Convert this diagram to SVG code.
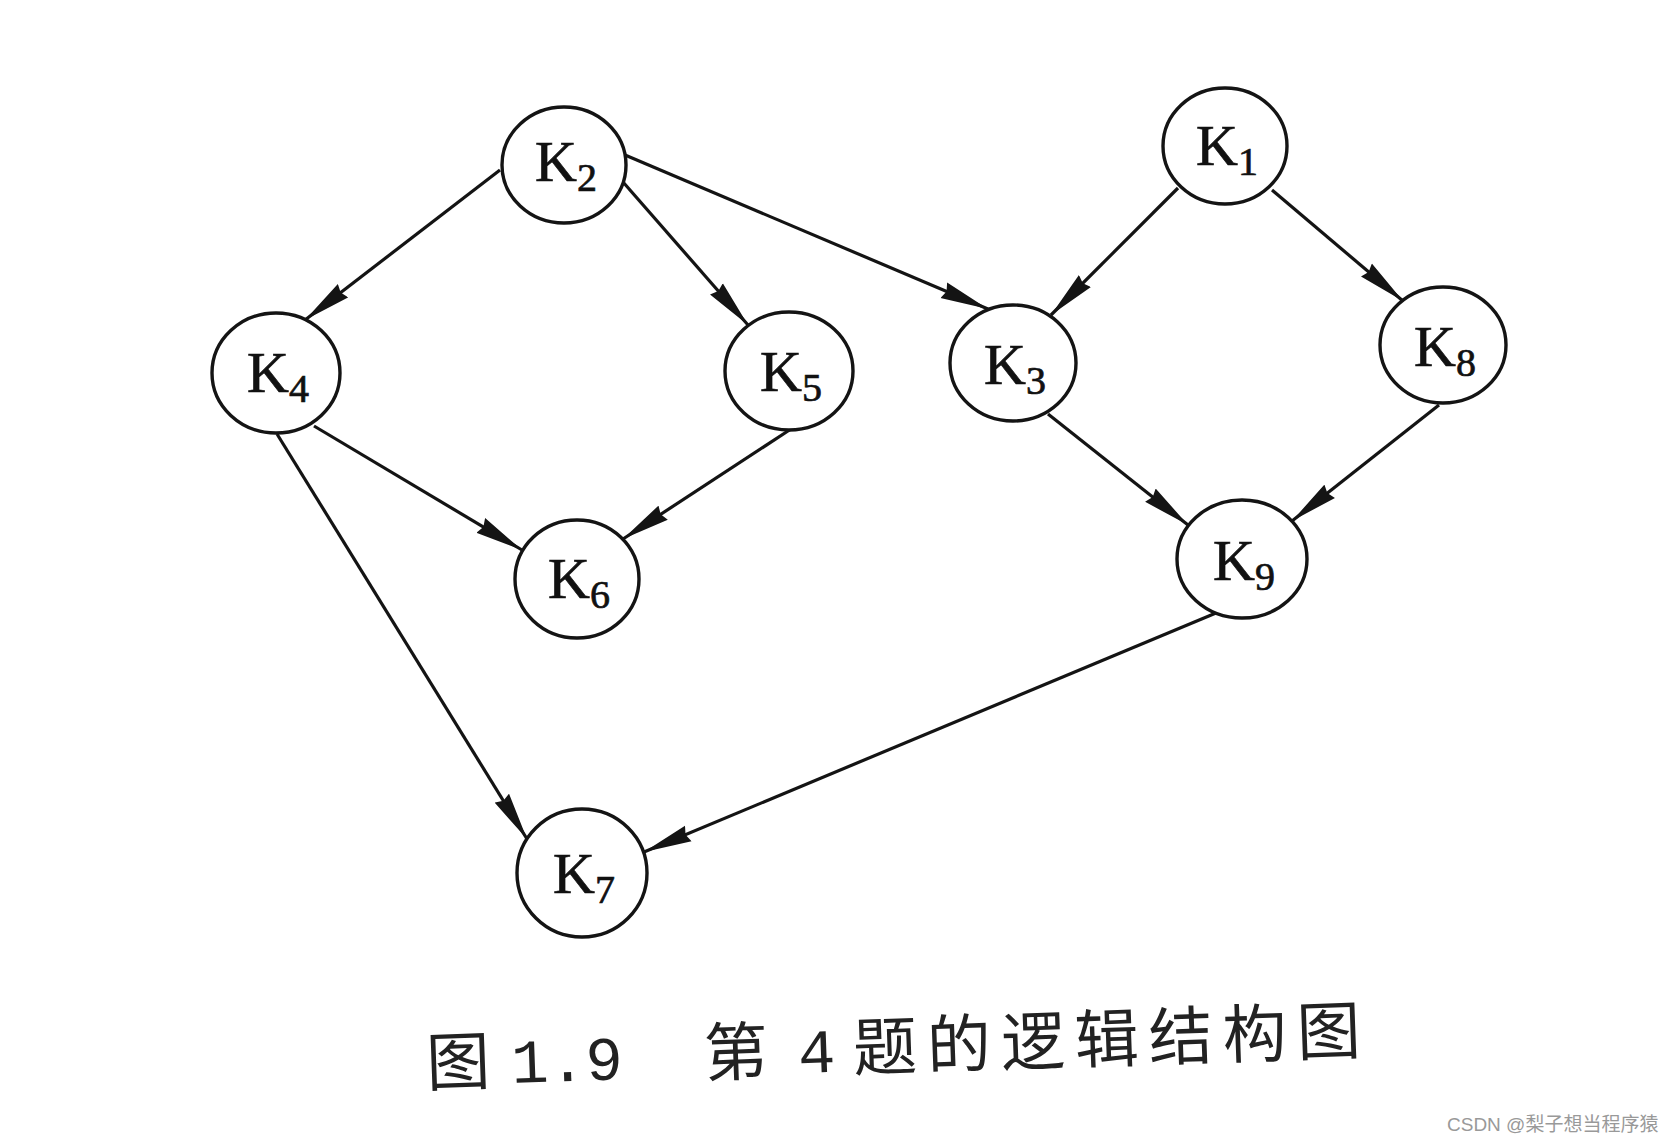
<svg xmlns="http://www.w3.org/2000/svg" width="1674" height="1143" viewBox="0 0 1674 1143">
<style>
.edge{stroke:#141414;stroke-width:3.2;fill:none;marker-end:url(#arr)}
.node ellipse{fill:#fff;stroke:#141414;stroke-width:3.4}
.lbl{font-family:"Liberation Serif","Times New Roman",serif;font-size:58px;fill:#111;stroke:#111;stroke-width:0.7;text-anchor:middle}
.sub{font-size:40px}
.cap{font-family:"Noto Sans CJK SC",sans-serif;font-size:64px;fill:#222}
.num{font-family:"Liberation Mono",monospace;font-size:62px;fill:#222}
.wm{font-family:"Liberation Sans","Noto Sans CJK SC",sans-serif;font-size:19px;fill:#999}
</style>
<defs>
<marker id="arr" markerUnits="userSpaceOnUse" viewBox="0 0 48 18" markerWidth="48" markerHeight="18" refX="48" refY="9" orient="auto">
<path d="M0,0.5 L48,9 L0,17.5 L3,9 Z" fill="#141414"/>
</marker>
</defs>
<rect width="1674" height="1143" fill="#fff"/>
<g id="connectors">
<line class="edge" x1="500" y1="170" x2="305" y2="320"/>
<line class="edge" x1="623" y1="182" x2="748" y2="325"/>
<line class="edge" x1="625" y1="155" x2="988" y2="309"/>
<line class="edge" x1="1178" y1="188" x2="1051" y2="315"/>
<line class="edge" x1="1272" y1="190" x2="1403" y2="301"/>
<line class="edge" x1="314" y1="426" x2="522" y2="550"/>
<line class="edge" x1="791" y1="429" x2="623" y2="539"/>
<line class="edge" x1="277" y1="434" x2="527" y2="839"/>
<line class="edge" x1="1048" y1="414" x2="1188" y2="525"/>
<line class="edge" x1="1439" y1="405" x2="1292" y2="521"/>
<line class="edge" x1="1216" y1="613" x2="644" y2="852"/>
</g>
<g id="K2" class="node"><ellipse cx="564" cy="165" rx="62" ry="58"/><text class="lbl" x="566" y="181">K<tspan class="sub" dy="10">2</tspan></text></g>
<g id="K1" class="node"><ellipse cx="1225" cy="146" rx="62" ry="58"/><text class="lbl" x="1227" y="165">K<tspan class="sub" dy="10">1</tspan></text></g>
<g id="K4" class="node"><ellipse cx="276" cy="373" rx="64" ry="60"/><text class="lbl" x="278" y="392">K<tspan class="sub" dy="10">4</tspan></text></g>
<g id="K5" class="node"><ellipse cx="789" cy="371" rx="64" ry="59"/><text class="lbl" x="791" y="391">K<tspan class="sub" dy="10">5</tspan></text></g>
<g id="K3" class="node"><ellipse cx="1013" cy="363" rx="63" ry="58"/><text class="lbl" x="1015" y="384">K<tspan class="sub" dy="10">3</tspan></text></g>
<g id="K8" class="node"><ellipse cx="1443" cy="345" rx="63" ry="58"/><text class="lbl" x="1445" y="366">K<tspan class="sub" dy="10">8</tspan></text></g>
<g id="K6" class="node"><ellipse cx="577" cy="579" rx="62" ry="59"/><text class="lbl" x="579" y="598">K<tspan class="sub" dy="10">6</tspan></text></g>
<g id="K9" class="node"><ellipse cx="1242" cy="559" rx="65" ry="59"/><text class="lbl" x="1244" y="580">K<tspan class="sub" dy="10">9</tspan></text></g>
<g id="K7" class="node"><ellipse cx="582" cy="873" rx="65" ry="64"/><text class="lbl" x="584" y="893">K<tspan class="sub" dy="10">7</tspan></text></g>
<g id="caption" transform="rotate(-2 427 1086)">
<text class="cap" x="427" y="1086">图</text>
<text class="num" x="512" y="1086">1.9</text>
<text class="cap" x="705" y="1086">第</text>
<text class="num" x="799" y="1086">4</text>
<text class="cap" x="854" y="1086" letter-spacing="10">题的逻辑结构图</text>
</g>
<text class="wm" x="1447" y="1131">CSDN @梨子想当程序猿</text>
</svg>
